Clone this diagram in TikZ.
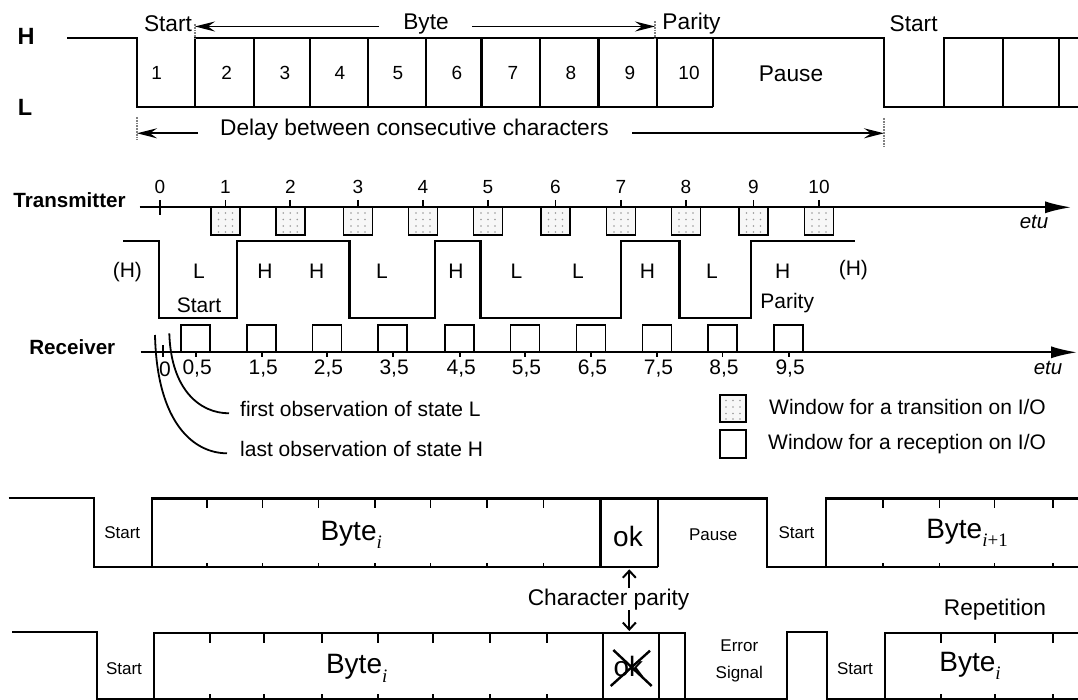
\documentclass[tikz,border=0pt]{standalone}
\usepackage{fontspec}
\setmainfont{Liberation Sans}
\newfontfamily\serifit{Liberation Serif}
\usetikzlibrary{arrows.meta}
\newcommand{\bytesub}[1]{Byte\raisebox{-0.3em}{\fontsize{19}{19}\selectfont\serifit #1}}
\begin{document}
\begin{tikzpicture}[x=1pt,y=-1pt,line join=miter,
  wave/.style={line width=2.2pt},
  tick/.style={line width=1.8pt},
  bigarr/.style={line width=1.8pt,-{Stealth[length=20pt,width=10pt,inset=7pt]}},
  axarr/.style={line width=1.8pt,-{Latex[length=26pt,width=12pt]}},
  smarr/.style={line width=2pt,-{Straight Barb[length=7pt,width=13pt]}},
  dmark/.style={line width=1.8pt,gray,densely dotted},
  lab/.style={inner sep=0pt,anchor=center},
  bigH/.style={lab,font=\fontsize{23.5}{27}\bfseries\selectfont},
  bname/.style={lab,font=\fontsize{20.6}{24}\bfseries\selectfont},
  t22/.style={lab,font=\fontsize{22.7}{26}\selectfont},
  t20/.style={lab,font=\fontsize{21}{24}\selectfont},
  t18/.style={lab,font=\fontsize{19}{22}\selectfont},
  t17/.style={lab,font=\fontsize{17}{20}\selectfont},
  t28/.style={lab,font=\fontsize{28}{32}\selectfont},
  etu/.style={lab,font=\fontsize{20.5}{24}\itshape\selectfont},
  win/.style={line width=1.8pt,fill=white},
  dotwin/.style={line width=1.8pt,fill=gray!6}
]
\useasboundingbox (0,0) rectangle (1078,700);

% ================= TOP =================
\node[bigH] (hH) at (26,36.7) {H};
\node[bigH] (hL) at (25,107) {L};
\draw[wave] (67,38.3) -| (136.7,107.3) -| (195,38.3) -- (884,38.3) |- (943.6,107.3) |- (1078,38.3);
\draw[wave] (195,107.3) -- (713,107.3);
\foreach \x in {254,310,368,426,481.4,540,598.5,657,713} \draw[wave] (\x,38.3) -- (\x,107.3);
\draw[wave] (943.6,107.3) -- (1078,107.3);
\foreach \x in {1003,1059} \draw[wave] (\x,38.3) -- (\x,107.3);
\foreach \n/\x in {1/156.7,2/226.7,3/285,4/340,5/398,6/457,7/513,8/571,9/630,10/689}
  \node[t18] (bit\n) at (\x,72.7) {\n};
\node[t22] (tstart) at (168,24) {Start};
\node[t22] (tbyte) at (426,24) {Byte};
\node[t22] (tparity) at (691.5,24) {Parity};
\node[t22] (tstart2) at (913.6,24) {Start};
\node[t22] (tpause) at (791,74) {Pause};
\node[t22] (tdelay) at (414.5,130) {Delay between consecutive characters};
\coordinate (bl) at (195,26.5); \coordinate (br) at (655,26.5);
\coordinate (dl) at (137,133.3); \coordinate (dr) at (884,133.3);
\draw[bigarr] (379,26.5) -- (bl);
\draw[bigarr] (472,26.5) -- (br);
\draw[bigarr] (198,133.3) -- (dl);
\draw[bigarr] (632,133.3) -- (dr);
\draw[dmark] (195,24) -- (195,38.3);
\draw[dmark] (655,21.3) -- (655,38.3);
\draw[dmark] (137,117) -- (137,140);
\draw[dmark] (884,118) -- (884,146.7);

% ================= TRANSMITTER =================
\node[bname] (trans) at (69.5,200) {Transmitter};
\coordinate (tx0) at (139.5,207.3);
\coordinate (tx1) at (1071,207.3);
\draw[axarr] (tx0) -- (tx1);
\node[etu] (etu1) at (1034,221.7) {etu};
\draw[tick] (160,200) -- (160,215);
\node[t18] (tl0) at (160,186.7) {0};
\foreach \n/\x in {1/225.5,2/290.3,3/358,4/423,5/488,6/555.5,7/621,8/686,9/753.5,10/819}{
  \draw[tick] (\x,200) -- (\x,207.3);
  \node[t18] (tl\n) at (\x,186.7) {\n};
  \draw[dotwin] (\x-14.5,207.3) rectangle (\x+14.5,235);
  \foreach \dx in {-7,0,7} \foreach \dy in {213,219.5,226,232}
    \fill[gray!80] (\x+\dx,\dy) circle (0.85);
}
\draw[wave] (123.3,240.7) -| (159,318.3) -| (237,240.7) -| (349.5,318.3) -| (434.6,240.7)
  -| (480.4,318.3) -| (621,240.7) -| (679.5,318.3) -| (751,240.7) -- (855,240.7);
\node[t20] (sH1) at (127.4,271.7) {(H)};
\node[t20] (s1) at (199,271.7) {L};
\node[t20] (sst) at (199,305) {Start};
\node[t20] (s2) at (265,271.7) {H};
\node[t20] (s3) at (316.8,271.7) {H};
\node[t20] (s4) at (382,271.7) {L};
\node[t20] (s5) at (456,271.7) {H};
\node[t20] (s6) at (516.5,271.7) {L};
\node[t20] (s7) at (577.9,271.7) {L};
\node[t20] (s8) at (647.4,271.7) {H};
\node[t20] (s9) at (712,271.7) {L};
\node[t20] (s10) at (782.8,271.7) {H};
\node[t20] (spar) at (787.2,303.3) {Parity};
\node[t20] (sH2) at (853.4,270) {(H)};

% ================= RECEIVER =================
\node[bname] (recv) at (72.3,347.3) {Receiver};
\coordinate (rx0) at (140.7,352.3);
\coordinate (rx1) at (1077,352.3);
\draw[axarr] (rx0) -- (rx1);
\node[etu] (etu2) at (1048,368.3) {etu};
\draw[tick] (162.7,345) -- (162.7,357.3);
\node[t20] (rl0) at (165,369) {0};
\foreach \n/\x in {0/195.6,1/261.7,2/327,3/392.6,4/459.7,5/525,6/591,7/657,8/722.5,9/788.6}{
  \draw[win] (\x-14.5,325) rectangle (\x+14.5,352.3);
  \draw[tick] (\x,352.3) -- (\x,357);
  \node[t20] (rl\n5) at (\x+1.5,369) {\n,5};
}
\node[t20,anchor=west] (fobs) at (240,409) {first observation of state L};
\node[t20,anchor=west] (lobs) at (240,449.3) {last observation of state H};
\coordinate (fend) at (229,413.3);
\coordinate (lend) at (227,453.3);
\draw[line width=1.8pt] (169.3,333.3) .. controls (171,390) and (200,413.3) .. (fend);
\draw[line width=1.8pt] (155,335) .. controls (157,425) and (195,453.3) .. (lend);

% legend
\draw[dotwin] (719.8,395) rectangle (746,421.7);
\foreach \dx in {726,733,740} \foreach \dy in {400.5,407,413.5,419}
  \fill[gray!80] (\dx,\dy) circle (0.85);
\draw[win] (719.8,430) rectangle (746,458.3);
\node[t20,anchor=west] (leg1) at (769,407.3) {Window for a transition on I/O};
\node[t20,anchor=west] (leg2) at (768,444) {Window for a reception on I/O};

% ================= BOTTOM: upper row =================
\draw[wave] (8.6,497.8) -| (94,567.3) -| (152,498.5) -- (767,498.5) |- (825.8,567.3) |- (1078,498.5);
\draw[wave] (152,567.3) -- (658,567.3);
\draw[wave] (600.5,498.5) -- (600.5,567.3);
\draw[wave] (658,498.5) -- (658,567.3);
\draw[wave] (825.8,567.3) -- (1078,567.3);
\foreach \x in {206.6,262.4,318.5,375.3,430.4,487.3,543.4,882.6,939.5,994.5,1053}{
  \draw[tick] (\x,498.5) -- (\x,508);
  \draw[tick] (\x,567.3) -- (\x,563);
}
\node[t17] (ust) at (122.2,532.7) {Start};
\node[t28] (ubyte) at (351.2,535) {\bytesub{\itshape i}};
\node[t28] (uok) at (628,536) {ok};
\node[t17] (upause) at (713.2,535) {Pause};
\node[t17] (ust2) at (796.5,532.7) {Start};
\node[t28] (ubyte2) at (967,533) {\bytesub{{\itshape i}+1}};

% parity
\node[t22] (cpar) at (608.5,599.3) {Character parity};
\coordinate (pu) at (629.3,569.3);
\coordinate (pd) at (629.3,631);
\draw[smarr] (629.3,588) -- (pu);
\draw[smarr] (629.3,610) -- (pd);
\node[t22] (rep) at (995,610) {Repetition};

% ================= BOTTOM: lower row =================
\draw[wave] (12,631.7) -| (96.7,699) -| (154,632.7) -- (685,632.7) |- (787.3,699) |- (826.7,631.7) |- (885,699) |- (1078,632.7);
\draw[wave] (154,699) -- (685,699);
\draw[wave] (603.3,632.7) -- (603.3,699);
\draw[wave] (659,632.7) -- (659,699);
\draw[wave] (885,699) -- (1078,699);
\foreach \x in {210,264.3,321.7,378.3,432.7,490,546.7,940.7,995,1053.3}{
  \draw[tick] (\x,632.7) -- (\x,643);
  \draw[tick] (\x,699) -- (\x,694);
}
\node[t17] (lst) at (124,669) {Start};
\node[t28] (lbyte) at (356.7,668.3) {\bytesub{\itshape i}};
\node[t28] (lok) at (628.3,666.7) {ok};
\draw[line width=2.4pt] (613.3,650) -- (651.7,686);
\draw[line width=2.4pt] (610.7,686) -- (650,650.7);
\node[t17] (lerr) at (739.3,646) {Error};
\node[t17] (lsig) at (739.3,674.3) {Signal};
\node[t17] (lst2) at (855,668.3) {Start};
\node[t28] (lbyte2) at (970,666) {\bytesub{\itshape i}};
\end{tikzpicture}
\end{document}
